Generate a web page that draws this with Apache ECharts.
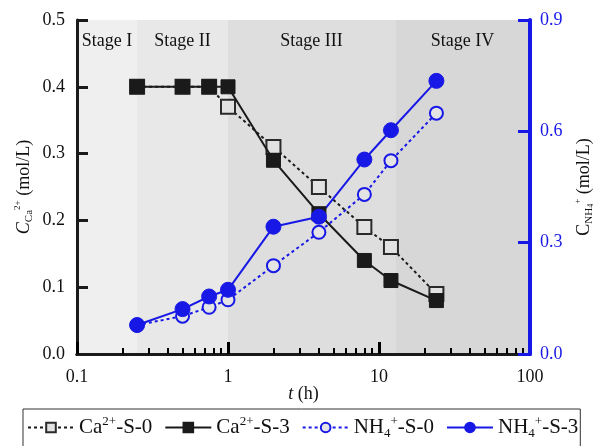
<!DOCTYPE html>
<html>
<head>
<meta charset="utf-8">
<script src="https://cdn.jsdelivr.net/npm/echarts@6/dist/echarts.min.js"></script>
<style>
  html, body { margin: 0; padding: 0; background: #fff; }
  #chart { width: 595px; height: 446px; }
</style>
</head>
<body>
<div id="chart"></div>
<script>
// 数据：时间 (h) 与浓度
const times = [0.25, 0.5, 0.75, 1, 2, 4, 8, 12, 24]
const caS0 = [0.4, 0.4, 0.4, 0.37, 0.31, 0.25, 0.19, 0.16, 0.09]
const caS3 = [0.4, 0.4, 0.4, 0.4, 0.29, 0.21, 0.14, 0.11, 0.08]
const nhS0 = [0.078, 0.102, 0.126, 0.146, 0.238, 0.328, 0.43, 0.521, 0.649]
const nhS3 = [0.078, 0.121, 0.155, 0.173, 0.343, 0.37, 0.524, 0.603, 0.736]

// 阶段分区
const stageNames = ['Stage I', 'Stage II', 'Stage III', 'Stage IV']
const stageEdges = [0.1, 0.25, 1, 12.8, 100]
const stageColors = ['#efefef', '#e8e8e8', '#dedede', '#d7d7d7']

const FONT = "'Liberation Serif', 'Times New Roman', serif"
const BLUE = '#1818e6'
const BLACK = '#1a1a1a'

const pair = (ys) => times.map((t, i) => [t, ys[i]])

const legendNames = {
  'Ca2+-S-0': 'Ca{sup|2+}-S-0',
  'Ca2+-S-3': 'Ca{sup|2+}-S-3',
  'NH4+-S-0': 'NH{sub|4}{sup|+}-S-0',
  'NH4+-S-3': 'NH{sub|4}{sup|+}-S-3'
}

const chart = echarts.init(document.getElementById('chart'))

const option = {
  animation: false,
  textStyle: { fontFamily: FONT },
  grid: { left: 77, top: 20, right: 65, bottom: 92, outerBoundsMode: 'none', containLabel: false },
  legend: {
    data: Object.keys(legendNames),
    left: 23,
    top: 409,
    padding: [6, 2, 30, 4],
    borderColor: '#333',
    borderWidth: 1,
    itemGap: 12,
    itemWidth: 46,
    itemHeight: 12,
    formatter: (name) => legendNames[name],
    textStyle: {
      fontSize: 21,
      lineHeight: 25,
      color: '#111',
      fontFamily: FONT,
      rich: {
        sup: { fontSize: 13, lineHeight: 13, verticalAlign: 'top', fontFamily: FONT, color: '#111' },
        sub: { fontSize: 13, lineHeight: 13, verticalAlign: 'bottom', fontFamily: FONT, color: '#111' }
      }
    }
  },
  xAxis: [
    {
      type: 'log',
      logBase: 10,
      min: 0.1,
      max: 100,
      z: 5,
      name: '{t|t} (h)',
      nameLocation: 'middle',
      nameGap: 31,
      nameMoveOverlap: false,
      nameTextStyle: {
        fontSize: 18, color: '#111', fontFamily: FONT,
        rich: { t: { fontStyle: 'italic', fontSize: 18, fontFamily: FONT, color: '#111' } }
      },
      axisLine: { lineStyle: { color: '#000', width: 3 } },
      axisTick: { show: true, inside: true, length: 12, lineStyle: { color: '#000', width: 3 } },
      minorTick: { show: true, splitNumber: 9, length: 6, lineStyle: { color: '#000', width: 2 } },
      axisLabel: {
        margin: 14, fontSize: 18, color: '#111', fontFamily: FONT,
        formatter: (v) => String(v)
      },
      splitLine: { show: false },
      minorSplitLine: { show: false }
    },
    {
      type: 'log',
      logBase: 10,
      min: 0.1,
      max: 100,
      position: 'top',
      z: 5,
      axisLine: { lineStyle: { color: BLACK, width: 3 } },
      axisTick: { show: false },
      axisLabel: { show: false },
      splitLine: { show: false }
    }
  ],
  yAxis: [
    {
      type: 'value',
      min: 0,
      max: 0.5,
      interval: 0.1,
      z: 5,
      name: '{c|C}{sub|Ca}{sup|2+}{n| (mol/L)}',
      nameLocation: 'middle',
      nameRotate: 90,
      nameGap: 42,
      nameMoveOverlap: false,
      nameTextStyle: {
        fontSize: 18, color: '#111', fontFamily: FONT,
        rich: {
          c: { fontStyle: 'italic', fontSize: 18, lineHeight: 22, fontFamily: FONT, color: '#111' },
          n: { fontSize: 18, lineHeight: 22, fontFamily: FONT, color: '#111' },
          sub: { fontSize: 11, lineHeight: 11, verticalAlign: 'bottom', fontFamily: FONT, color: '#111' },
          sup: { fontSize: 9, lineHeight: 9, verticalAlign: 'top', fontFamily: FONT, color: '#111' }
        }
      },
      axisLine: { show: true, lineStyle: { color: BLACK, width: 3 } },
      axisTick: { inside: true, length: 11, lineStyle: { color: BLACK, width: 3 } },
      axisLabel: { margin: 12, fontSize: 18, color: '#111', fontFamily: FONT, formatter: (v) => v.toFixed(1) },
      splitLine: { show: false }
    },
    {
      type: 'value',
      min: 0,
      max: 0.9,
      interval: 0.3,
      z: 6,
      position: 'right',
      name: '{c|C}{sub|NH}{sub2|4}{sup|+}{n| (mol/L)}',
      nameLocation: 'middle',
      nameRotate: 90,
      nameGap: 43,
      nameMoveOverlap: false,
      nameTextStyle: {
        fontSize: 18, color: '#111', fontFamily: FONT,
        rich: {
          c: { fontSize: 18, lineHeight: 22, fontFamily: FONT, color: '#111' },
          n: { fontSize: 18, lineHeight: 22, fontFamily: FONT, color: '#111' },
          sub: { fontSize: 11, lineHeight: 11, verticalAlign: 'bottom', fontFamily: FONT, color: '#111' },
          sub2: { fontSize: 8, lineHeight: 8, verticalAlign: 'bottom', fontFamily: FONT, color: '#111' },
          sup: { fontSize: 9, lineHeight: 9, verticalAlign: 'top', fontFamily: FONT, color: '#111' }
        }
      },
      axisLine: { show: true, lineStyle: { color: BLUE, width: 4 } },
      axisTick: { inside: true, length: 12, lineStyle: { color: BLUE, width: 3 } },
      axisLabel: { margin: 10, fontSize: 18, color: BLUE, fontFamily: FONT, formatter: (v) => v.toFixed(1) },
      splitLine: { show: false }
    }
  ],
  series: [
    {
      name: 'Ca2+-S-0',
      type: 'line',
      z: 3,
      data: pair(caS0),
      symbol: 'rect',
      symbolSize: 14,
      lineStyle: { color: BLACK, width: 2, type: [3, 3] },
      itemStyle: { color: '#e2e2e2', borderColor: '#2a2a2a', borderWidth: 2 },
      // 阶段背景
      markArea: {
        silent: true,
        label: {
          show: true, position: 'insideTop', distance: 12,
          fontSize: 18, color: '#111', fontFamily: FONT
        },
        data: stageNames.map((n, i) => [
          { name: n, xAxis: stageEdges[i], itemStyle: { color: stageColors[i] } },
          { xAxis: stageEdges[i + 1] }
        ])
      }
    },
    {
      name: 'Ca2+-S-3',
      type: 'line',
      z: 4,
      data: pair(caS3),
      symbol: 'rect',
      symbolSize: 14,
      lineStyle: { color: BLACK, width: 2 },
      itemStyle: { color: BLACK, borderColor: BLACK, borderWidth: 1 }
    },
    {
      name: 'NH4+-S-0',
      type: 'line',
      yAxisIndex: 1,
      z: 3,
      data: pair(nhS0),
      symbol: 'circle',
      symbolSize: 13,
      lineStyle: { color: BLUE, width: 2, type: [3, 3] },
      itemStyle: { color: '#e4e4e4', borderColor: BLUE, borderWidth: 2 }
    },
    {
      name: 'NH4+-S-3',
      type: 'line',
      yAxisIndex: 1,
      z: 4,
      data: pair(nhS3),
      symbol: 'circle',
      symbolSize: 15,
      lineStyle: { color: BLUE, width: 2 },
      itemStyle: { color: BLUE, borderColor: BLUE, borderWidth: 1 }
    }
  ]
}

chart.setOption(option)
</script>
</body>
</html>
